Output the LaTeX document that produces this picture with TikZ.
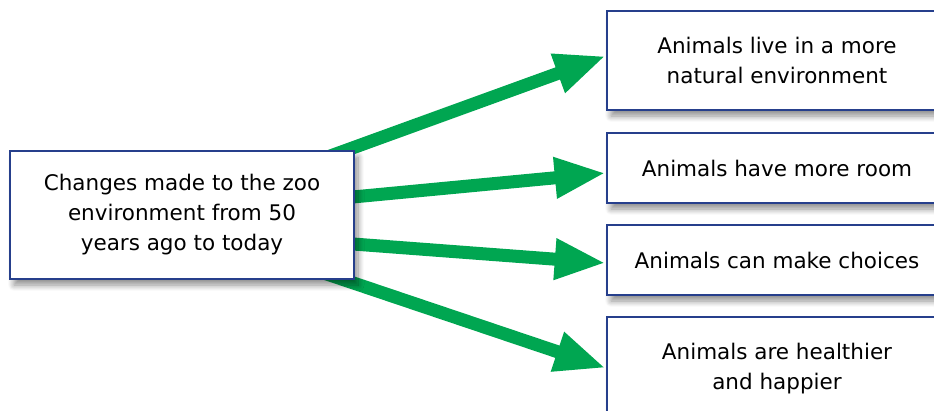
\documentclass[tikz,border=0pt]{standalone}
\usepackage{fontspec}
\setmainfont{DejaVu Sans}
\usetikzlibrary{arrows.meta,shadows.blur}
\definecolor{arrgreen}{HTML}{00A651}
\definecolor{boxblue}{HTML}{263F8C}
\tikzset{
  box/.style={draw=boxblue, line width=2.5pt, fill=white, align=center,
    inner sep=0pt, font=\fontsize{21.5}{30}\selectfont,
    blur shadow={shadow xshift=4pt, shadow yshift=-6pt, shadow opacity=45, shadow blur steps=10, shadow blur radius=6pt}},
  arr/.style={draw=arrgreen, line width=13pt,
    -{Triangle[length=51pt,width=38pt]}, arrgreen},
}
\begin{document}
\begin{tikzpicture}[x=1pt,y=-1pt]
\useasboundingbox (0,0) rectangle (934,410);
% start points hidden behind the left box
\coordinate (s1) at (300,167);
\coordinate (s2) at (300,202);
\coordinate (s3) at (300,240);
\coordinate (s4) at (300,265);
\node[box, minimum width=340pt, minimum height=99pt] (R1) at (777,60.5) {Animals live in a more\\natural environment};
\node[box, minimum width=340pt, minimum height=70pt] (R2) at (777,168) {Animals have more room};
\node[box, minimum width=340pt, minimum height=70pt] (R3) at (777,260) {Animals can make choices};
\node[box, minimum width=340pt, minimum height=104pt] (R4) at (777,369) {Animals are healthier\\and happier};
\draw[arr] (s1) -- ([yshift=4.5pt]R1.west);
\draw[arr] (s2) -- ([yshift=-5pt]R2.west);
\draw[arr] (s3) -- ([yshift=-3pt]R3.west);
\draw[arr] (s4) -- ([yshift=1pt]R4.west);
\node[box, minimum width=344pt, minimum height=128pt] (L) at (182,215) {Changes made to the zoo\\environment from 50\\years ago to today};
\end{tikzpicture}
\end{document}
